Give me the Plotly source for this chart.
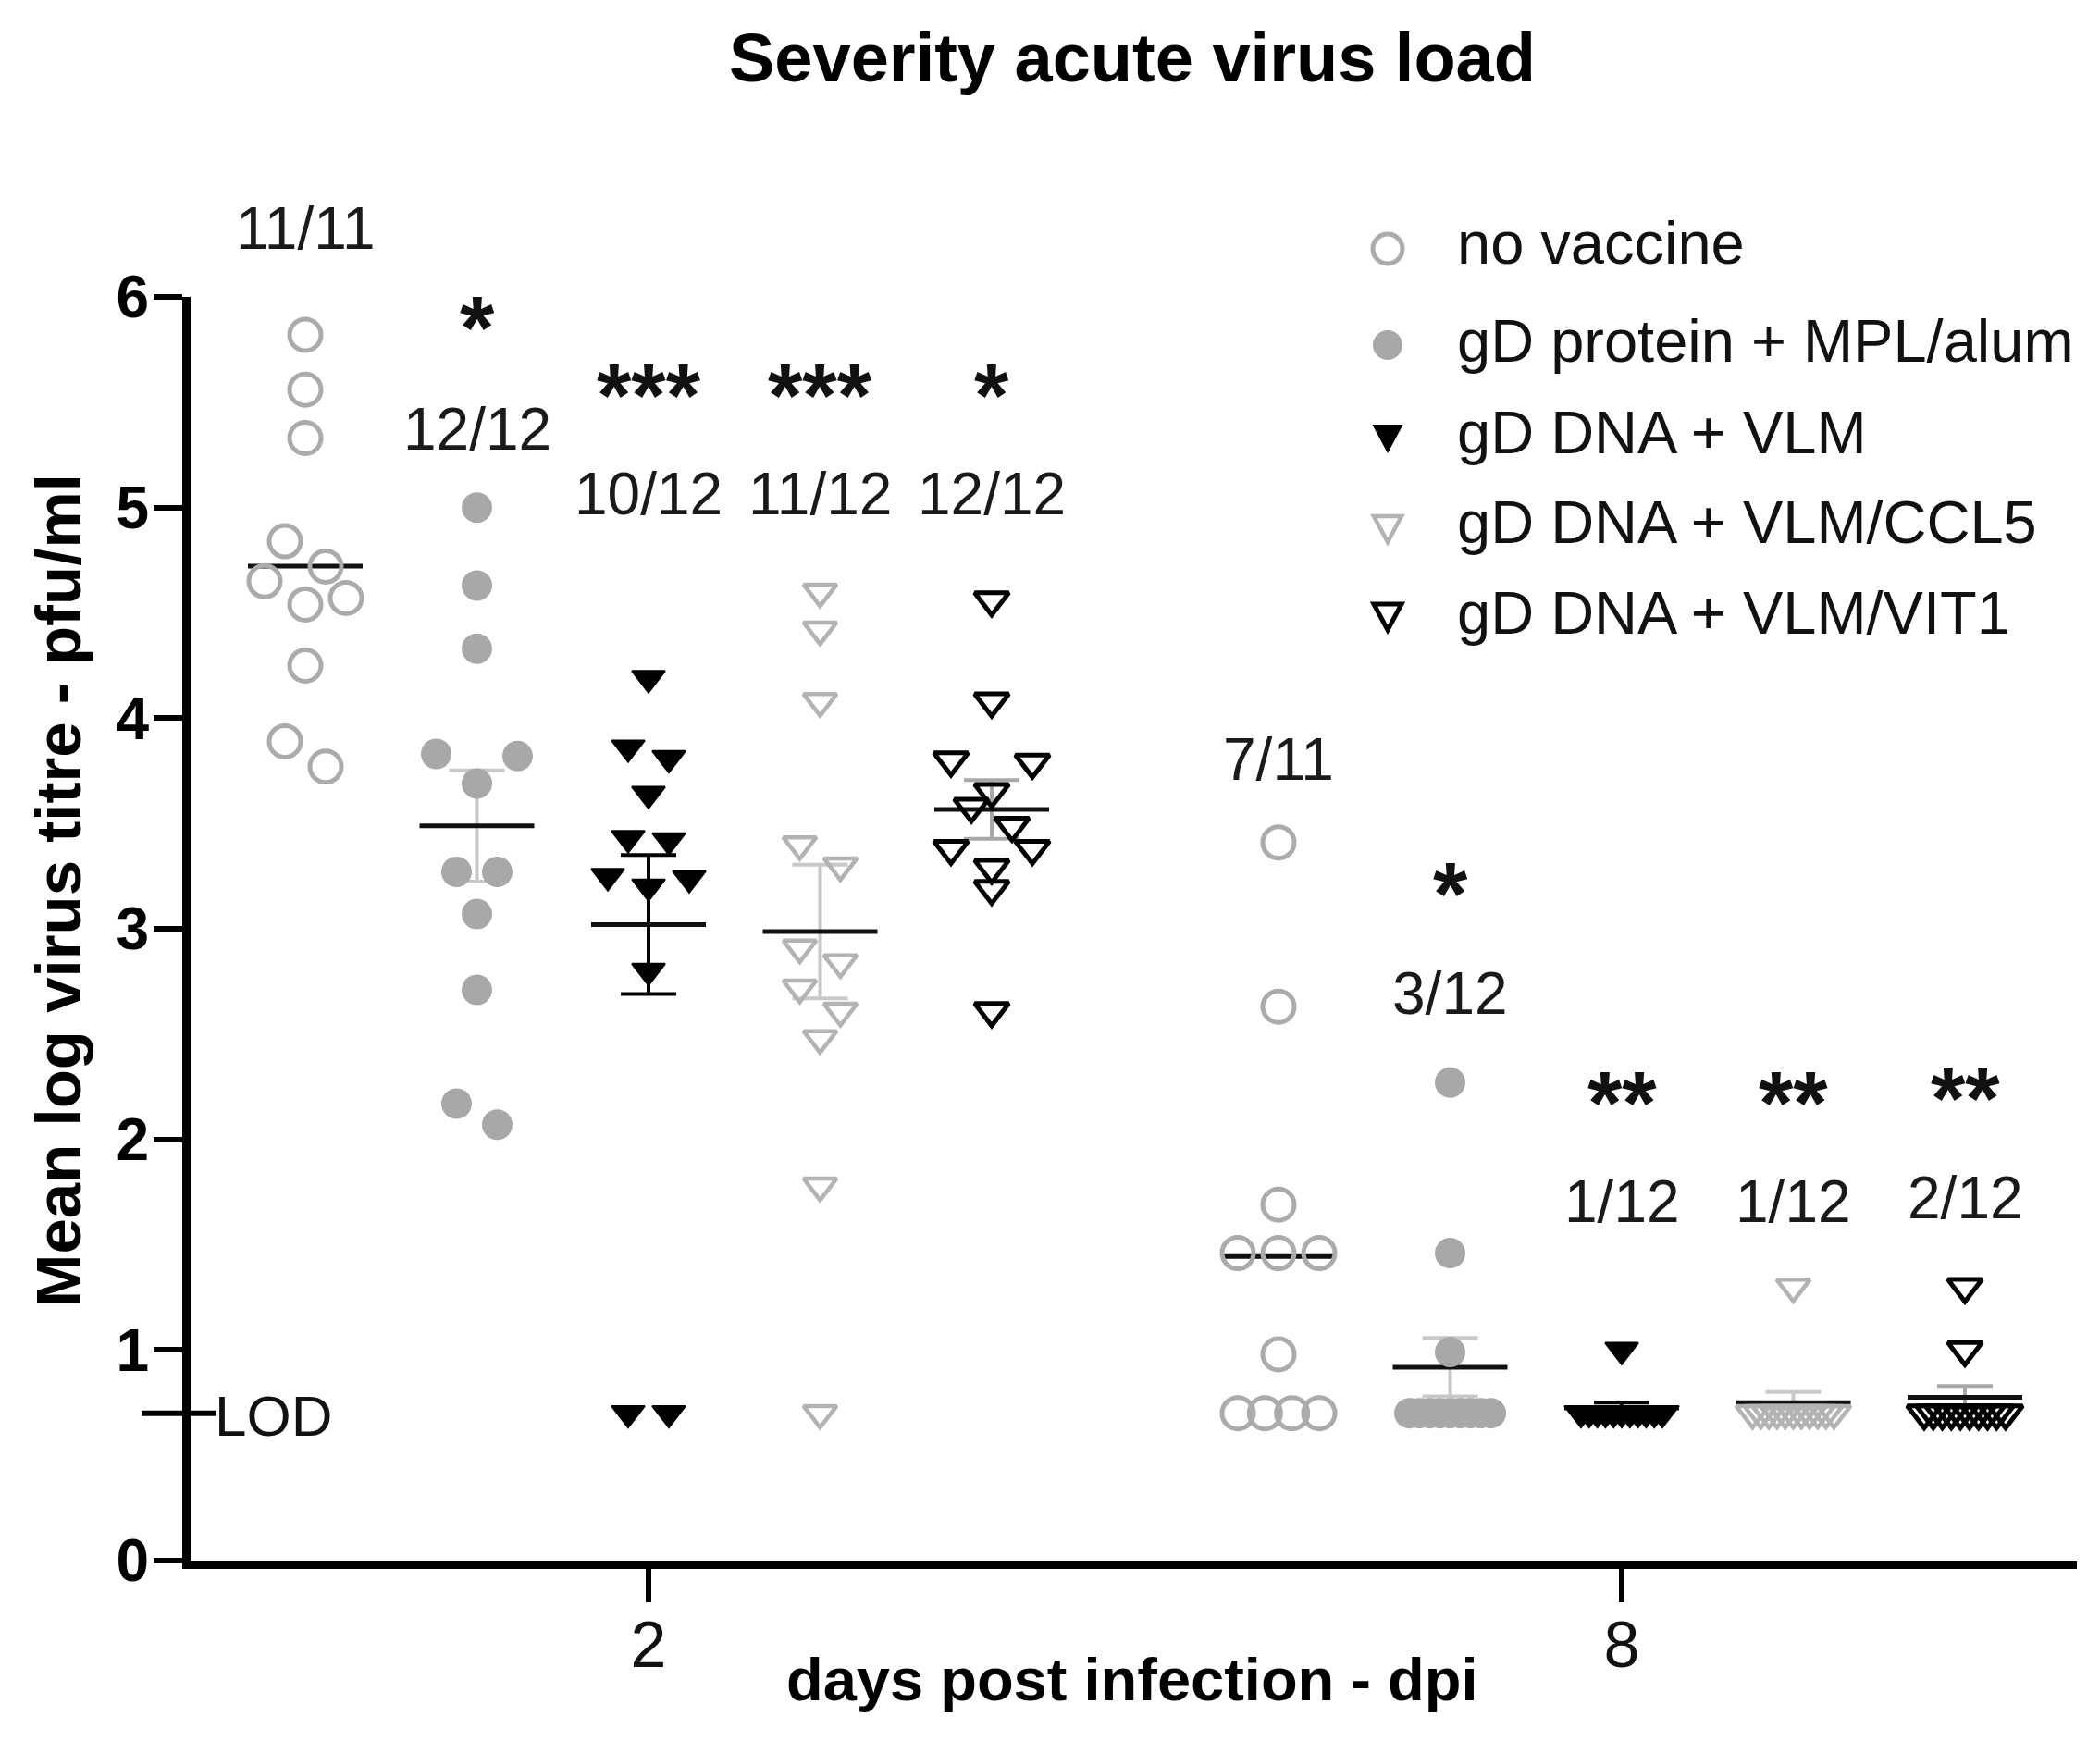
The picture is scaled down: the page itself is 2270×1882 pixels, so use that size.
import numpy as np
import plotly.graph_objects as go

# ---------------- data ----------------
GROUPS = ["no vaccine", "gD protein + MPL/alum", "gD DNA + VLM",
          "gD DNA + VLM/CCL5", "gD DNA + VLM/VIT1"]
DAYS = ["2", "8"]
LOD = 0.7

D2_NO_VACCINE = [5.82, 5.56, 5.33, 4.84, 4.72, 4.65, 4.57, 4.54, 4.25, 3.89, 3.77]
D2_PROTEIN = [5.00, 4.63, 4.33, 3.83, 3.82, 3.69, 3.27, 3.27, 3.07, 2.71, 2.17, 2.07]
D2_VLM = [4.19, 3.86, 3.81, 3.64, 3.43, 3.42, 3.25, 3.24, 3.20, 2.80, 0.70, 0.70]
D2_CCL5 = [4.60, 4.42, 4.08, 3.40, 3.30, 2.91, 2.84, 2.72, 2.61, 2.48, 1.78, 0.70]
D2_VIT1 = [4.56, 4.08, 3.80, 3.79, 3.65, 3.58, 3.49, 3.38, 3.38, 3.29, 3.19, 2.61]

D8_NO_VACCINE = [3.41, 2.63, 1.69, 1.46, 1.46, 1.46, 0.98, 0.70, 0.70, 0.70, 0.70]
D8_PROTEIN = [2.27, 1.46, 0.99, 0.70, 0.70, 0.70, 0.70, 0.70, 0.70, 0.70, 0.70, 0.70]
D8_VLM = [1.00, 0.70, 0.70, 0.70, 0.70, 0.70, 0.70, 0.70, 0.70, 0.70, 0.70, 0.70]
D8_CCL5 = [1.30, 0.70, 0.70, 0.70, 0.70, 0.70, 0.70, 0.70, 0.70, 0.70, 0.70, 0.70]
D8_VIT1 = [1.30, 1.00, 0.70, 0.70, 0.70, 0.70, 0.70, 0.70, 0.70, 0.70, 0.70, 0.70]

DATA = {
    "2": [D2_NO_VACCINE, D2_PROTEIN, D2_VLM, D2_CCL5, D2_VIT1],
    "8": [D8_NO_VACCINE, D8_PROTEIN, D8_VLM, D8_CCL5, D8_VIT1],
}
INFECTED = {
    "2": ["11/11", "12/12", "10/12", "11/12", "12/12"],
    "8": ["7/11", "3/12", "1/12", "1/12", "2/12"],
}
SIGNIF = {
    "2": ["", "*", "***", "***", "*"],
    "8": ["", "*", "**", "**", "**"],
}
Y_TICKS = [0, 1, 2, 3, 4, 5, 6]

# ---------------- layout / style ----------------
W, H = 2270, 1882
M_L, M_R, M_T, M_B = 198, 33, 313, 203
Y_RANGE = [0, 6]
GROUP_PX = 185.5                       # pixel distance between neighbouring groups
DAY_CENTER_PX = {"2": 693, "8": 1745}  # pixel centre of each day block
PLOT_W = W - M_L - M_R
PLOT_H = H - M_T - M_B
X_RANGE = [(M_L - DAY_CENTER_PX["2"]) / GROUP_PX, (W - M_R - DAY_CENTER_PX["2"]) / GROUP_PX]
DAY_CENTER = {d: (DAY_CENTER_PX[d] - DAY_CENTER_PX["2"]) / GROUP_PX for d in DAYS}
GROUP_STEP = 1.0
PX_X = PLOT_W / (X_RANGE[1] - X_RANGE[0])
PX_Y = PLOT_H / (Y_RANGE[1] - Y_RANGE[0])

FONT = "Liberation Sans, Arial, Helvetica, sans-serif"
SWARM_STEP = 44 / PX_X         # horizontal spacing between neighbours
ROW_H = 0.15                   # values closer than this share a row
MAX_SPAN = 2 * SWARM_STEP
MEAN_HALF = 62 / PX_X
CAP_HALF = 30 / PX_X

STYLE = [
    dict(symbol="circle-open", size=34, color="#ababab", lw=5, ebar=None),
    dict(symbol="circle", size=33, color="#a8a8a8", lw=0, ebar="#c8c8c8"),
    dict(symbol="triangle-down", size=31, color="#000000", lw=2, ebar="#000000"),
    dict(symbol="triangle-down-open", size=31, color="#b3b3b3", lw=4.5, ebar="#c8c8c8"),
    dict(symbol="triangle-down-open", size=32, color="#000000", lw=5, ebar="#a8a8a8"),
]

# label placement (values on the y scale)
LABEL_Y = {"2": [6.31, 5.36, 5.05, 5.05, 5.05], "8": [3.79, 2.68, 1.69, 1.69, 1.71]}
STAR_Y = {"2": [None, 5.88, 5.56, 5.56, 5.56], "8": [None, 3.19, 2.20, 2.20, 2.22]}
STAR_SHIFT = -5
LABEL_SHIFT = 3

# hand drawn legend (pixels of the page)
LEG_SYM_X_PX = 1492
LEG_TXT_X_PX = 1565
LEG_SYM_Y_PX = [261, 365, 463, 561, 656]
LEG_TXT_Y_PX = [255, 360, 459, 556, 654]


def px_to_paper_x(px):
    return (px - M_L) / PLOT_W


def px_to_paper_y(py):
    return (H - M_B - py) / PLOT_H


def swarm_offsets(values):
    order = sorted(range(len(values)), key=lambda i: -values[i])
    rows = []
    for i in order:
        if rows and values[rows[-1][0]] - values[i] < ROW_H:
            rows[-1].append(i)
        else:
            rows.append([i])
    off = [0.0] * len(values)
    for row in rows:
        k = len(row)
        if k == 1:
            pos = [0.0]
        elif k == 3:
            pos = [-1.0, 1.0, 0.0]
        else:
            pos = [j - (k - 1) / 2 for j in range(k)]
        step = SWARM_STEP if k <= 3 else min(SWARM_STEP, MAX_SPAN / (k - 1))
        for j, i in enumerate(row):
            off[i] = pos[j] * step
    return off


fig = go.Figure()

# ---- mean and SEM lines (under the markers) ----
mean_x, mean_y = [], []
for day in DAYS:
    for g, vals in enumerate(DATA[day]):
        xc = DAY_CENTER[day] + (g - 2) * GROUP_STEP
        v = np.array(vals, dtype=float)
        m = v.mean()
        sem = v.std(ddof=1) / np.sqrt(len(v))
        col = STYLE[g]["ebar"]
        if col is not None:
            ex = [xc, xc, None, xc - CAP_HALF, xc + CAP_HALF, None, xc - CAP_HALF, xc + CAP_HALF]
            ey = [m - sem, m + sem, None, m + sem, m + sem, None, m - sem, m - sem]
            fig.add_trace(go.Scatter(x=ex, y=ey, mode="lines", line=dict(color=col, width=4),
                                     showlegend=False, hoverinfo="skip"))
        mean_x += [xc - MEAN_HALF, xc + MEAN_HALF, None]
        mean_y += [m, m, None]
fig.add_trace(go.Scatter(x=mean_x, y=mean_y, mode="lines", line=dict(color="#111111", width=5),
                         showlegend=False, hoverinfo="skip"))

# ---- individual animals ----
for day in DAYS:
    for g, vals in enumerate(DATA[day]):
        xc = DAY_CENTER[day] + (g - 2) * GROUP_STEP
        offs = swarm_offsets(vals)
        st = STYLE[g]
        fig.add_trace(go.Scatter(
            x=[xc + o for o in offs], y=vals, mode="markers", name=GROUPS[g],
            showlegend=False, cliponaxis=False,
            marker=dict(symbol=st["symbol"], size=st["size"], color=st["color"],
                        line=dict(width=st["lw"], color=st["color"]))))

# ---- legend: symbols as pixel-sized shapes, names as text ----
TRI_PATH = "M-15,11 L15,11 L0,-17 Z"
LEG_SHAPES = [
    dict(type="circle", x0=-16, x1=16, y0=-16, y1=16, line=dict(color=STYLE[0]["color"], width=5),
         fillcolor="rgba(0,0,0,0)"),
    dict(type="circle", x0=-16, x1=16, y0=-16, y1=16, line=dict(width=0),
         fillcolor=STYLE[1]["color"]),
    dict(type="path", path=TRI_PATH, line=dict(color=STYLE[2]["color"], width=2),
         fillcolor=STYLE[2]["color"]),
    dict(type="path", path=TRI_PATH, line=dict(color=STYLE[3]["color"], width=4.5),
         fillcolor="rgba(0,0,0,0)"),
    dict(type="path", path=TRI_PATH, line=dict(color=STYLE[4]["color"], width=5),
         fillcolor="rgba(0,0,0,0)"),
]
for g, name in enumerate(GROUPS):
    shp = dict(LEG_SHAPES[g])
    shp.update(xref="paper", yref="paper", xsizemode="pixel", ysizemode="pixel",
               xanchor=px_to_paper_x(LEG_SYM_X_PX), yanchor=px_to_paper_y(LEG_SYM_Y_PX[g]),
               layer="above")
    fig.add_shape(**shp)
    fig.add_annotation(x=px_to_paper_x(LEG_TXT_X_PX), y=px_to_paper_y(LEG_TXT_Y_PX[g]),
                       xref="paper", yref="paper", text=name,
                       showarrow=False, xanchor="left", yanchor="middle",
                       font=dict(family=FONT, size=65, color="#111111"))

# ---- group labels ----
for day in DAYS:
    for g in range(len(GROUPS)):
        xc = DAY_CENTER[day] + (g - 2) * GROUP_STEP
        fig.add_annotation(x=xc, y=LABEL_Y[day][g] / Y_RANGE[1], yref="paper",
                           text=INFECTED[day][g], showarrow=False, yshift=LABEL_SHIFT,
                           xanchor="center", yanchor="middle",
                           font=dict(family=FONT, size=64, color="#1a1a1a"))
        if SIGNIF[day][g]:
            fig.add_annotation(x=xc, y=STAR_Y[day][g] / Y_RANGE[1], yref="paper",
                               text=SIGNIF[day][g], showarrow=False,
                               xanchor="center", yanchor="middle", yshift=STAR_SHIFT,
                               font=dict(family=FONT, size=96, color="#111111", weight="bold"))

# ---- LOD marker ----
fig.add_shape(type="line", xref="paper", yref="y",
              x0=px_to_paper_x(145), x1=px_to_paper_x(226), y0=LOD, y1=LOD,
              line=dict(color="black", width=6))
fig.add_annotation(x=px_to_paper_x(222), y=LOD, yshift=-3, xref="paper", yref="y",
                   text="LOD", showarrow=False, xanchor="left", yanchor="middle",
                   font=dict(family=FONT, size=62, color="#111111"))

# ---- axis titles ----
fig.add_annotation(x=px_to_paper_x(1216), y=px_to_paper_y(1807), xref="paper", yref="paper",
                   text="days post infection - dpi", showarrow=False,
                   xanchor="center", yanchor="middle",
                   font=dict(family=FONT, size=65, color="black", weight="bold"))
fig.add_annotation(x=px_to_paper_x(55), y=px_to_paper_y(955), xref="paper", yref="paper",
                   text="Mean log virus titre - pfu/ml", showarrow=False, textangle=-90,
                   xanchor="center", yanchor="middle",
                   font=dict(family=FONT, size=69, color="black", weight="bold"))

fig.update_layout(
    width=W, height=H,
    margin=dict(l=M_L, r=M_R, t=M_T, b=M_B),
    paper_bgcolor="white", plot_bgcolor="white",
    showlegend=False,
    title=dict(text="Severity acute virus load", x=1216 / W, xref="container", xanchor="center",
               y=1 - 54 / H, yref="container", yanchor="middle",
               font=dict(family=FONT, size=74, color="black", weight="bold")),
    xaxis=dict(range=X_RANGE, showline=True, linecolor="black", linewidth=9,
               tickmode="array", tickvals=[DAY_CENTER[d] for d in DAYS], ticktext=DAYS,
               ticks="outside", ticklen=36, tickwidth=6, tickcolor="black",
               ticklabelstandoff=-14,
               tickfont=dict(family=FONT, size=70, color="#111111"),
               showgrid=False, zeroline=False),
    yaxis=dict(range=Y_RANGE, showline=True, linecolor="black", linewidth=9,
               tickmode="array", tickvals=Y_TICKS, ticktext=[str(t) for t in Y_TICKS],
               ticks="outside", ticklen=31, tickwidth=6, tickcolor="black",
               ticklabelstandoff=-8,
               tickfont=dict(family=FONT, size=64, color="black", weight="bold"),
               showgrid=False, zeroline=False),
)

fig.write_html("out.html")
